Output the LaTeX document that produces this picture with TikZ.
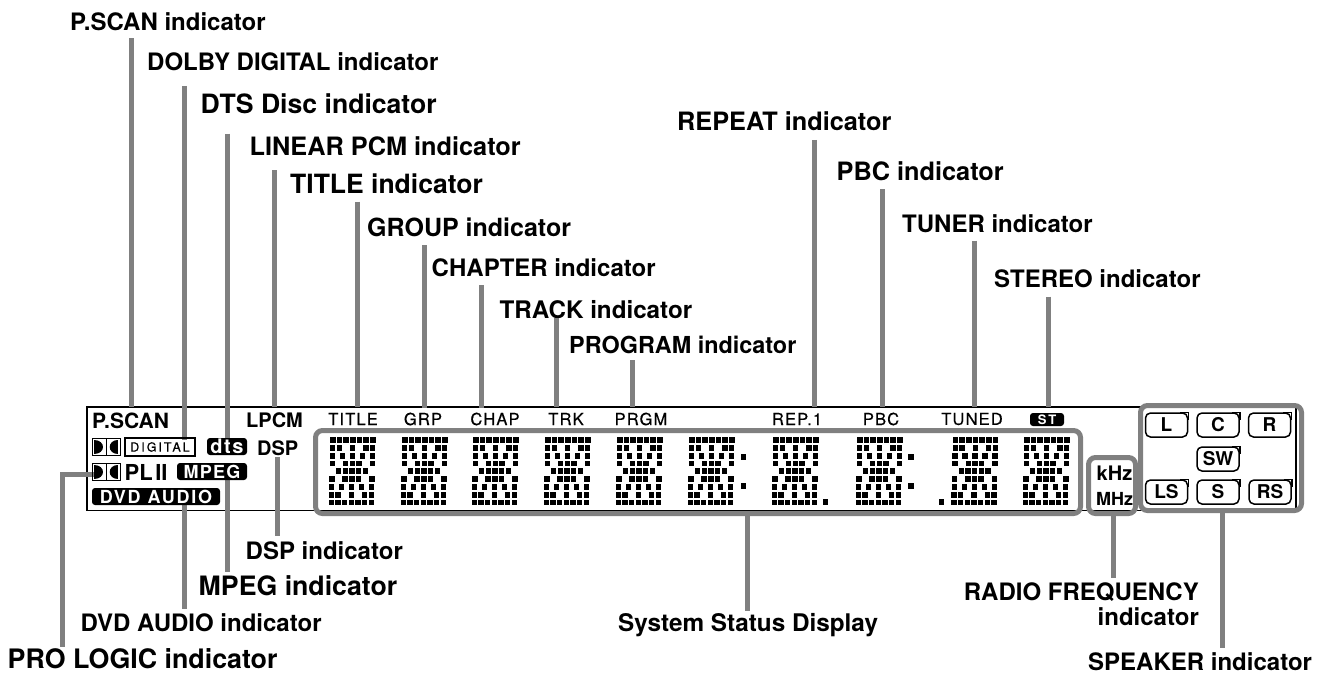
\documentclass[tikz,border=0pt]{standalone}
\usepackage{fontspec}
\setmainfont{TeX Gyre Heros}
\usepackage{tikz}
\definecolor{leadgray}{gray}{0.5}

\tikzset{
	lbl/.style={font=\bfseries\fontsize{#1}{#1}\selectfont,inner sep=0pt,anchor=base west,text height=18pt,text depth=0pt},
	lbl/.default=24,
	leader/.style={draw=leadgray,line width=5pt},
	grayframe/.style={draw=leadgray,line width=5pt,rounded corners=7pt},
	boldtext/.style={font=\bfseries\fontsize{#1}{#1}\selectfont,inner sep=0pt},
	toptext/.style={font=\fontsize{16.5}{16.5}\selectfont\addfontfeatures{LetterSpace=7,FakeBold=0.5},inner sep=0pt},
	badge/.style={fill=black,text=white,rounded corners=3pt,inner sep=0pt,font=\bfseries\fontsize{#1}{#1}\selectfont},
	spkbox/.style={draw,line width=1.5pt,rounded corners=5pt,inner sep=0pt,minimum width=42pt,minimum height=24pt,font=\bfseries\fontsize{19}{19}\selectfont},
	dolby/.pic={
		\draw[line width=1pt] (0,0) rectangle (14,17) (14,0) rectangle (28,17);
		\fill (2,1.5) .. controls (14,1.5) and (14,15.5) .. (2,15.5) -- cycle;
		\fill (26,1.5) .. controls (15,1.5) and (15,15.5) .. (26,15.5) -- cycle;
	},
	dotglyph/.pic={
		\foreach \c/\r in {0/0,1/0,2/0,3/0,4/0,5/0,6/0,
			0/1,1/1,3/1,5/1,6/1,
			0/2,1.5/2,3/2,4.5/2,6/2,
			0/3,2/3,3/3,4/3,6/3,
			1/4,2/4,3/4,4/4,5/4,
			0/5,2/5,3/5,4/5,6/5,
			0/6,1.5/6,3/6,4.5/6,6/6,
			0/7,1/7,3/7,5/7,6/7,
			0/8,1/8,2/8,3/8,4/8,5/8,6/8}
			\fill ({\c*6.67-\r*0.2-2.7},{\r*7.8-2.9}) rectangle ++(5.4,5.8);
	}
}

\begin{document}
\begin{tikzpicture}[x=1pt,y=-1pt]
	\useasboundingbox (0,0) rectangle (1325,675);

	% display outline
	\draw[line width=1.5pt] (87,407) rectangle (1296,510.5);

	% labels above
	\node[lbl] (pscanlbl) at (70,30) {P.SCAN indicator};
	\node[lbl] (dolbylbl) at (147,70.7) {DOLBY DIGITAL indicator};
	\node[lbl=26.6] (dtslbl) at (200.5,113.3) {DTS Disc indicator};
	\node[lbl=25.3] (lpcmlbl) at (249.5,155) {LINEAR PCM indicator};
	\node[lbl=26.5] (titlelbl) at (290,193.3) {TITLE indicator};
	\node[lbl=25] (grouplbl) at (367,236) {GROUP indicator};
	\node[lbl] (chaplbl) at (431.5,276) {CHAPTER indicator};
	\node[lbl=24.2] (tracklbl) at (499.5,318) {TRACK indicator};
	\node[lbl=23.4] (prgmlbl) at (569,353) {PROGRAM indicator};
	\node[lbl=25.3] (replbl) at (677,130.7) {REPEAT indicator};
	\node[lbl=25.3] (pbclbl) at (836.5,180) {PBC indicator};
	\node[lbl] (tunerlbl) at (902,232.3) {TUNER indicator};
	\node[lbl] (stereolbl) at (994,287.3) {STEREO indicator};

	% labels below
	\node[lbl] (dsplbl) at (245.5,559) {DSP indicator};
	\node[lbl=26.7] (mpeglbl) at (198.5,595) {MPEG indicator};
	\node[lbl] (dvdlbl) at (80.5,631) {DVD AUDIO indicator};
	\node[lbl=26.8] (prolbl) at (7.5,668.3) {PRO LOGIC indicator};
	\node[lbl=24.3] (syslbl) at (618,631.7) {System Status Display};
	\node[lbl,anchor=base east] (radiolbl) at (1199,600) {RADIO FREQUENCY};
	\node[lbl,anchor=base east] (radiolbl2) at (1199,625.7) {indicator};
	\node[lbl] (spklbl) at (1088,670.7) {SPEAKER indicator};

	% leaders
	\foreach \lbl/\x/\y/\gap in {pscanlbl/131.5/407/8,dolbylbl/184/440/15,dtslbl/227.3/438/20,lpcmlbl/274/407/15,
		titlelbl/357.3/407/8,grouplbl/424.5/408/9,chaplbl/481.3/408/9,tracklbl/556.5/407/0,prgmlbl/632.5/407/7,
		replbl/814.5/407/9,pbclbl/882.5/407/9,tunerlbl/974/407/8,stereolbl/1048/407/9}{
		\coordinate (\lbl end) at (\x,\y);
		\draw[leader,shorten <=\gap pt] (\lbl end |- \lbl.south) -- (\lbl end);
	}
	\foreach \lbl/\x/\y/\gap in {dsplbl/277.5/457/5,mpeglbl/227.5/480/5,dvdlbl/184/505/4,syslbl/747.5/515/3,
		radiolbl/1113/515/4,spklbl/1222/512/5}{
		\coordinate (\lbl end) at (\x,\y);
		\draw[leader,shorten <=\gap pt] (\lbl end |- \lbl.north) -- (\lbl end);
	}
	\coordinate (proend) at (94,474);
	\coordinate (probend) at (62,474);
	\draw[leader,shorten >=3pt] (proend) -- (probend) -- (probend |- prolbl.north);

	% gray frames
	\draw[grayframe] (315.5,430.5) rectangle (1080.5,513.5);
	\draw[grayframe] (1088.5,457.5) rectangle (1135.5,513.5);
	\draw[grayframe] (1140.5,405.5) rectangle (1301.5,510.5);

	% indicators, left part
	\node[boldtext=21,anchor=west] (pscan) at (92,420.5) {P.SCAN};
	\node[boldtext=20,anchor=west] (lpcm) at (246,420.5) {LPCM};
	\pic at (92,438) {dolby};
	\pic at (92,463) {dolby};
	\node[draw,line width=1.2pt,inner sep=0pt,minimum width=70pt,minimum height=18pt,font=\fontsize{12.5}{12.5}\selectfont\addfontfeatures{LetterSpace=16,FakeBold=0.4}] (digital) at (160,447) {DIGITAL};
	\node[badge=20,minimum width=40pt,minimum height=17pt,text height=13pt,text depth=0pt] (dts) at (227,446.5) {\addfontfeature{LetterSpace=8}dts};
	\node[boldtext=20,anchor=west] (dsp) at (257,448) {DSP};
	\node[boldtext=22,anchor=west] (plii) at (124.5,472) {PL\kern2.5pt II};
	\node[badge=18,minimum width=70pt,minimum height=17pt] (mpeg) at (212,471.5) {\addfontfeature{LetterSpace=7}MPEG};
	\node[badge=18,minimum width=128pt,minimum height=17pt] (dvd) at (156,496.5) {\addfontfeature{LetterSpace=10}DVD AUDIO};

	% small texts over the dots
	\node[toptext] (title) at (353,419) {TITLE};
	\node[toptext] (grp) at (423,419) {GRP};
	\node[toptext] (chap) at (495,419) {CHAP};
	\node[toptext] (trk) at (566,419) {TRK};
	\node[toptext] (prgm) at (641,419) {PRGM};
	\node[toptext] (rep) at (797,419) {REP.1};
	\node[toptext] (pbc) at (881,419) {PBC};
	\node[toptext] (tuned) at (972,419) {TUNED};
	\node[badge=13,minimum width=34pt,minimum height=13pt,text height=9pt,text depth=0pt] (st) at (1047,419.5) {\addfontfeature{LetterSpace=15}ST};

	% character cells
	\foreach \x in {332.8,404.8,475.8,547.8,619.8,691.8,775.8,859.8,955.5,1026.8}
		\pic at (\x,440) {dotglyph};
	\foreach \x/\y in {743.3/457,743.3/486,911/457,911/486,825.7/502,941.7/502}
		\fill (\x-2.7,\y-2.9) rectangle ++(5.4,5.8);

	\node[boldtext=20] (khz) at (1114.5,473) {kHz};
	\node[boldtext=18] (mhz) at (1114.5,498.7) {MHz};

	% speakers
	\foreach \nm/\cx/\cy in {L/1166.5/425,C/1218/425,R/1269.5/425,SW/1218/459,LS/1166.5/492,S/1218/492,RS/1270/492}{
		\node[spkbox] (spk\nm) at (\cx,\cy) {\nm};
		\draw[line width=1.5pt] (spk\nm.north east) ++(-8,0) -- (spk\nm.north east) -- ++(0,8);
	}
\end{tikzpicture}
\end{document}
